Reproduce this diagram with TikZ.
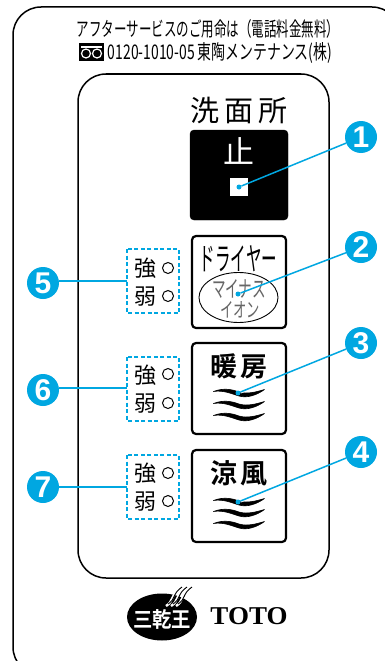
\documentclass[tikz,border=0pt]{standalone}
\usetikzlibrary{shapes.geometric,calc}
\usepackage{fontspec}
\usepackage{graphicx}
\setmainfont{Noto Sans CJK JP}
\newfontfamily\jpbold{Noto Sans CJK JP Bold}
\newfontfamily\numfont{Liberation Sans Bold}
\newfontfamily\logofont{Liberation Serif Bold}
\definecolor{leader}{HTML}{00A7E1}
\tikzset{
  frameline/.style={draw=black,line width=1.5pt},
  btn/.style={draw=black,line width=2.2pt,rounded corners=4pt,fill=white},
  numdot/.style={circle,fill=leader,minimum size=32pt,inner sep=0pt,text=white,font=\numfont\fontsize{30}{30}\selectfont},
  lead/.style={draw=leader,line width=1.5pt},
  halo/.style={draw=white,line width=3pt},
  leaddot/.style={circle,fill=leader,inner sep=0pt,minimum size=5pt},
  dashbox/.style={draw=leader,line width=1.5pt,dash pattern=on 4pt off 2.5pt},
  lamp/.style={circle,draw=black,line width=1pt,minimum size=11pt,inner sep=0pt},
  lvl/.style={inner sep=0pt,font=\fontsize{22}{22}\selectfont},
}
\newcommand{\wavemark}[2]{%
  \filldraw[black,line width=.6pt,line join=round,shift={(#1,#2)}] (-25.5,-1.5) .. controls (-15,-5.5) and (-7,-3.5) .. (0,-1) .. controls (8,1.5) and (17,-1) .. (25.5,-3.5) .. controls (18,2) and (8,5.5) .. (0,3) .. controls (-8,0.5) and (-16,-3) .. (-25.5,-1.5) -- cycle;
}
\begin{document}
\begin{tikzpicture}[x=1pt,y=-1pt]
\useasboundingbox (0,0) rectangle (385,661);
\fill[white] (0,0) rectangle (385,661);
\begin{scope}
\clip (0,0) rectangle (385,661);
\draw[frameline,rounded corners=28pt] (13,7) rectangle (400,675);
\end{scope}
\draw[frameline,rounded corners=28pt] (78,74) rectangle (329,578);
% header
\node[inner sep=0pt] (hd1) at (208,28.5) {\resizebox{262pt}{17pt}{アフターサービスのご用命は（電話料金無料）}};
\node[inner sep=0pt] (hd2) at (220,53) {\resizebox{224pt}{17pt}{0120-1010-05 東陶メンテナンス(株)}};
\fill[black] (79,43) rectangle (104,61);
\draw[white,line width=1.2pt] (86,53.5) circle (4.5);
\draw[white,line width=1.2pt] (97,53.5) circle (4.5);
\draw[white,line width=1.2pt] (81,47) -- (102,47);
% title
\node[inner sep=0pt,font=\fontsize{29}{29}\selectfont] (title) at (239,110) {洗\hspace{5pt}面\hspace{5pt}所};
% stop button
\draw[fill=black,draw=black,rounded corners=4pt] (190,130) rectangle (288,220);
\node[inner sep=0pt,text=white,font=\fontsize{31}{31}\selectfont] (stop) at (239,151) {止};
\node[fill=white,minimum size=18pt,inner sep=0pt] (sq) at (239,187) {};
% dryer
\draw[btn] (192,236) rectangle (286,328);
\node[inner sep=0pt] (dry) at (238.5,259) {\resizebox{77pt}{25pt}{ドライヤー}};
\node[ellipse,draw=black,line width=.9pt,minimum width=79pt,minimum height=50pt,inner sep=0pt] (el) at (238.5,297.5) {};
\node[inner sep=0pt,text=black!60] (ma) at (239,289) {\resizebox{54pt}{18pt}{マイナス}};
\node[inner sep=0pt,text=black!60] (io) at (240,310) {\resizebox{40pt}{16pt}{イオン}};
% heat
\draw[btn] (192,343) rectangle (286,434);
\node[inner sep=0pt,font=\jpbold\fontsize{27}{27}\selectfont] (heat) at (239,366) {暖\hspace{3pt}房};
\wavemark{239}{393}
\wavemark{239}{405}
\wavemark{239}{417}
% cool
\draw[btn] (192,450) rectangle (286,542);
\node[inner sep=0pt,font=\jpbold\fontsize{27}{27}\selectfont] (cool) at (239,473) {涼\hspace{3pt}風};
\wavemark{239}{502}
\wavemark{239}{513}
\wavemark{239}{525}
% level groups
\draw[dashbox] (127,249) rectangle (179,313);
\draw[dashbox] (127,357) rectangle (179,421);
\draw[dashbox] (127,455) rectangle (179,519);
\node[lvl] (s5) at (145,268) {強};\node[lvl] (w5) at (145,297) {弱};
\node[lamp] (ls5) at (168,268) {};\node[lamp] (lw5) at (168,296) {};
\node[lvl] (s6) at (145,375) {強};\node[lvl] (w6) at (145,404) {弱};
\node[lamp] (ls6) at (168,374) {};\node[lamp] (lw6) at (168,403) {};
\node[lvl] (s7) at (145,473) {強};\node[lvl] (w7) at (145,502) {弱};
\node[lamp] (ls7) at (168,473) {};\node[lamp] (lw7) at (168,501) {};
% callouts
\node[numdot] (n1) at (361,137) {1};
\node[numdot] (n2) at (361,247) {2};
\node[numdot] (n3) at (361,343) {3};
\node[numdot] (n4) at (361,452) {4};
\node[numdot] (n5) at (43,283) {5};
\node[numdot] (n6) at (43,390) {6};
\node[numdot] (n7) at (43,487) {7};
\node[leaddot] (t1) at (239,187) {};
\node[leaddot] (t2) at (238,294) {};
\node[leaddot] (t3) at (238,393) {};
\node[leaddot] (t4) at (238,502) {};
\coordinate (b5) at (127,281);
\coordinate (b6) at (127,388);
\coordinate (b7) at (127,487);
\draw[halo] (t3) -- ($(t3)!0.2!(n3)$);
\draw[halo] (t4) -- ($(t4)!0.2!(n4)$);
\draw[lead] (n1) -- (t1);
\draw[lead] (n2) -- (t2);
\draw[lead] (n3) -- (t3);
\draw[lead] (n4) -- (t4);
\draw[lead] (n5.east |- b5) -- (b5);
\draw[lead] (n6.east |- b6) -- (b6);
\draw[lead] (n7) -- (b7);
% logo
\node[ellipse,fill=black,minimum width=70pt,minimum height=47pt,inner sep=0pt] (lg) at (162,617) {};
\node[inner sep=0pt,text=white] (lgt) at (162,619) {\resizebox{58pt}{18pt}{\jpbold 三乾王}};
\foreach \dx in {0,5,10}{
  \draw[white,line width=2.4pt] (166+\dx,606) .. controls (174+\dx,601) and (170+\dx,596) .. (180+\dx,589);
  \draw[black,line width=.9pt] (168+\dx,604) .. controls (176+\dx,599) and (172+\dx,594) .. (182+\dx,587);
}
\node[inner sep=0pt] (toto) at (249,616) {\resizebox{77pt}{17pt}{\logofont TOTO}};
\end{tikzpicture}
\end{document}
